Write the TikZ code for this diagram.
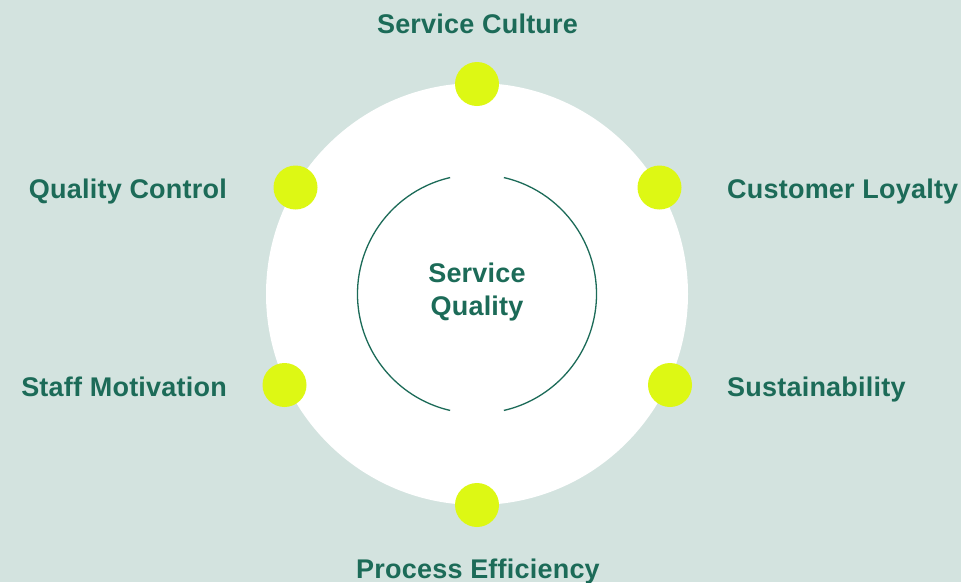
\documentclass[tikz,border=0pt]{standalone}
\usepackage{fontspec}
\setmainfont{Liberation Sans}[LetterSpace=0.8]
\definecolor{bgc}{RGB}{211,227,223}
\definecolor{dotc}{RGB}{221,248,20}
\definecolor{txtc}{RGB}{28,107,88}
\begin{document}
\begin{tikzpicture}[x=1pt,y=-1pt,
  lbl/.style={text=txtc,font=\bfseries\fontsize{27}{33}\selectfont,inner sep=0pt},
  dot/.style={circle,fill=dotc,minimum size=44pt,inner sep=0pt},
  arcline/.style={draw=txtc,line width=1.3pt}]
\fill[bgc] (0,0) rectangle (961,582);
\useasboundingbox (0,0) rectangle (961,582);
\node[circle,fill=white,minimum size=422pt,inner sep=0pt] (hub) at (477,294) {};
\begin{scope}[shift={(477,294)},y=1pt]
  \draw[arcline] (77:119.5) arc[start angle=77,end angle=-77,radius=119.5];
  \draw[arcline] (103:119.5) arc[start angle=103,end angle=257,radius=119.5];
\end{scope}
\node[lbl,align=center] (center) at (477,292) {Service\\Quality};
\node[dot] (d1) at (477,84) {};
\node[dot] (d2) at (659.5,187.5) {};
\node[dot] (d3) at (670,385) {};
\node[dot] (d4) at (477,505) {};
\node[dot] (d5) at (284.5,385) {};
\node[dot] (d6) at (295.5,187.5) {};
\node[lbl,anchor=base] (t1) at (477.5,33) {Service Culture};
\node[lbl,anchor=base west] (t2) at (727,198) {Customer Loyalty};
\node[lbl,anchor=base west] (t3) at (727,396) {Sustainability};
\node[lbl,anchor=base] (t4) at (478,578) {Process Efficiency};
\node[lbl,anchor=base east] (t5) at (227,396) {Staff Motivation};
\node[lbl,anchor=base east] (t6) at (227,198) {Quality Control};
\end{tikzpicture}
\end{document}
